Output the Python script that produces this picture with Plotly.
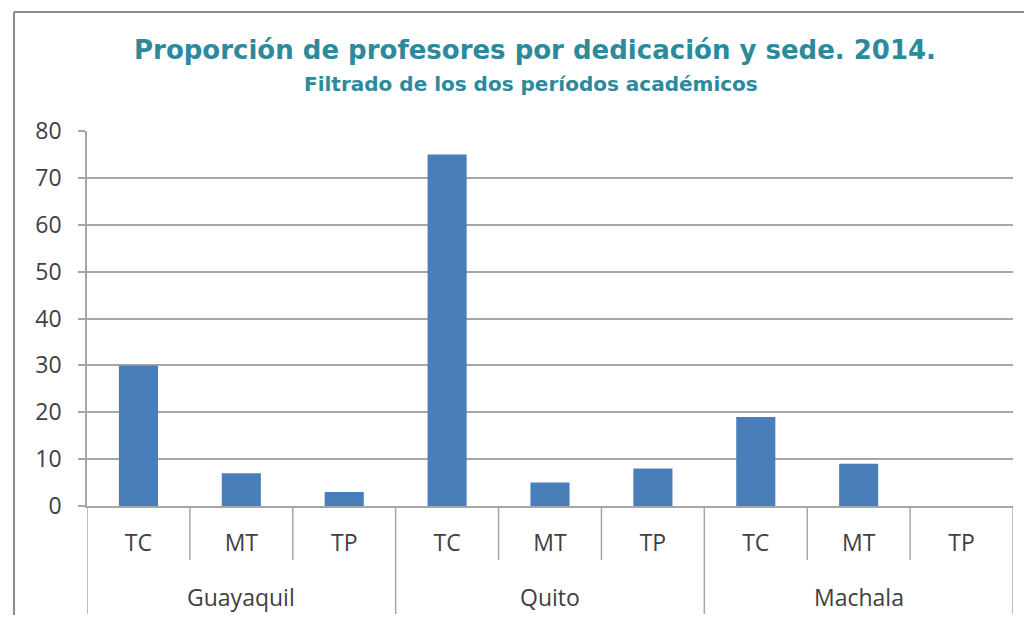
import plotly.graph_objects as go

sedes = ["Guayaquil", "Guayaquil", "Guayaquil", "Quito", "Quito", "Quito", "Machala", "Machala", "Machala"]
dedicacion = ["TC", "MT", "TP", "TC", "MT", "TP", "TC", "MT", "TP"]
valores = [30, 7, 3, 75, 5, 8, 19, 9, 0]

title_main = "Proporción de profesores por dedicación y sede. 2014."
title_sub = "Filtrado de los dos períodos académicos"

ids = [s + "|" + d for s, d in zip(sedes, dedicacion)]
n = len(ids)

fig = go.Figure(go.Bar(
    x=ids, y=valores,
    marker=dict(color="#4A7EBB", line=dict(width=0)),
))

GRID = "#A6A6A6"
LABEL_FONT = dict(family="Open Sans, sans-serif", size=23, color="#404040")

# axis decorations: boundary lines between categories and groups
shapes = []
for i in range(n + 1):
    b = i - 0.5
    is_group = i == 0 or i == n or sedes[i] != sedes[i - 1]
    shapes.append(dict(type="line", xref="x", yref="paper", x0=b, x1=b,
                       y0=0, y1=(-108 / 375) if is_group else (-54 / 375),
                       line=dict(color=GRID, width=1.5)))

# outer chart frame (left and top edges visible)
fx0 = (14 - 87) / 926
fy1 = (506 - 12) / 375
shapes.append(dict(type="line", xref="paper", yref="paper",
                   x0=fx0, x1=fx0, y0=(506 - 640) / 375, y1=fy1,
                   line=dict(color="#8C8C8C", width=2), layer="below"))
shapes.append(dict(type="line", xref="paper", yref="paper",
                   x0=fx0, x1=(1040 - 87) / 926, y0=fy1, y1=fy1,
                   line=dict(color="#8C8C8C", width=2), layer="below"))

annotations = [
    dict(text="<b>" + title_main + "</b>", xref="paper", yref="paper",
         x=0.484, y=(506 - 50) / 375, xanchor="center", yanchor="middle", showarrow=False,
         font=dict(size=26, color="#2C8A9C", family="DejaVu Sans, sans-serif")),
    dict(text="<b>" + title_sub + "</b>", xref="paper", yref="paper",
         x=0.479, y=(506 - 84) / 375, xanchor="center", yanchor="middle", showarrow=False,
         font=dict(size=20, color="#2C8A9C", family="DejaVu Sans, sans-serif")),
]
seen = []
for s in sedes:
    if s not in seen:
        seen.append(s)
for s in seen:
    idx = [i for i, v in enumerate(sedes) if v == s]
    annotations.append(dict(text=s, xref="x", yref="paper",
                            x=sum(idx) / len(idx), y=(506 - 597) / 375,
                            xanchor="center", yanchor="middle", showarrow=False,
                            font=LABEL_FONT))

fig.update_layout(
    width=1016, height=607,
    margin=dict(l=79, r=11, t=123, b=109),
    paper_bgcolor="white", plot_bgcolor="white",
    bargap=0.62, showlegend=False,
    font=dict(family="Open Sans, sans-serif", color="#404040"),
    annotations=annotations,
    shapes=shapes,
)

fig.update_yaxes(
    range=[0, 80], dtick=10, showgrid=True, gridcolor=GRID, gridwidth=1.5,
    showline=True, linecolor=GRID, linewidth=1.5,
    ticks="outside", ticklen=7, tickcolor=GRID, tickwidth=1.5,
    tickfont=LABEL_FONT, ticklabelstandoff=12,
    zeroline=False,
)
fig.update_xaxes(
    type="category", tickvals=ids, ticktext=dedicacion,
    range=[-0.5, n - 0.5],
    showline=True, linecolor=GRID, linewidth=1.5,
    ticks="", showgrid=False,
    tickfont=LABEL_FONT, ticklabelstandoff=16,
)

fig.write_html("out.html")
